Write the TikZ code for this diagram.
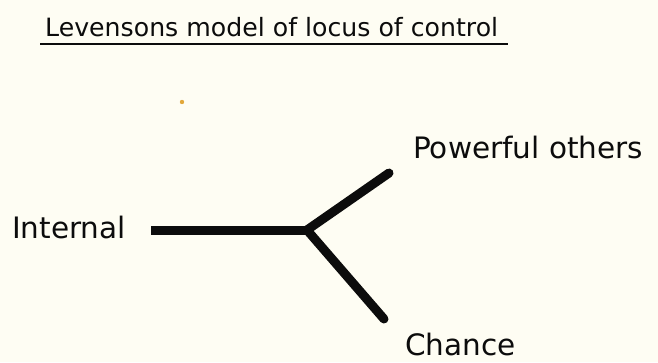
\documentclass[tikz,border=0pt]{standalone}
\usepackage{fontspec}
\setmainfont{DejaVu Sans}
\definecolor{paperCol}{RGB}{254, 253, 243}
\definecolor{inkCol}{RGB}{12, 12, 12}
\definecolor{speckCol}{RGB}{226, 168, 58}

\begin{document}
\begin{tikzpicture}[
    x=1pt, y=-1pt,
    label/.style={anchor=base west, inner sep=0pt, text=inkCol,
                  font=\fontsize{29.5}{34}\selectfont},
    branch/.style={inkCol, line width=9pt, line cap=round, line join=round}
]

    % ================= background / page size =================
    \fill[paperCol] (0,0) rectangle (658,362);

    % ================= title with underline =================
    \node[label, font=\fontsize{25.2}{30}\selectfont] (title) at (45,36)
        {Levensons model of locus of control};
    \draw[inkCol, line width=1.8pt]
        ([shift={(-5,8)}]title.base west) -- ([shift={(10,8)}]title.base east);

    % small speck in the scan
    \fill[speckCol] (182,102) circle (2.2);

    % ================= labels =================
    \node[label] (internal) at (12,238)  {Internal};
    \node[label] (powerful) at (413,158) {Powerful others};
    \node[label] (chance)   at (405,355) {Chance};

    % ================= the fork =================
    \coordinate (stem) at (151,230);
    \coordinate (hub)  at (307,230);
    \coordinate (upEnd)   at (389,173);
    \coordinate (downEnd) at (384,319);

    \draw[branch, line cap=butt] (stem) -- (hub);
    \draw[branch] (hub) -- (upEnd);
    \draw[branch] (hub) -- (downEnd);

\end{tikzpicture}
\end{document}
